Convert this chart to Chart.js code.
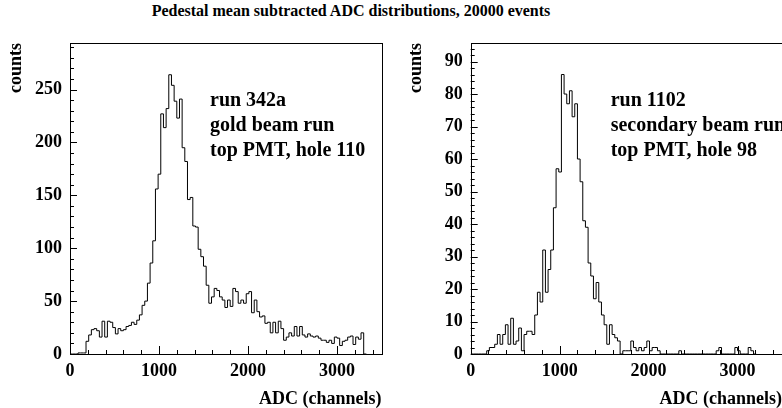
<!DOCTYPE html>
<html>
<head>
<meta charset="utf-8">
<title>Pedestal mean subtracted ADC distributions</title>
<script src="https://cdn.jsdelivr.net/npm/chart.js@4.4.0/dist/chart.umd.min.js"></script>
<style>
  body { margin: 0; background: #fff; width: 782px; height: 408px; overflow: hidden; position: relative; font-family: 'Liberation Serif', 'Times New Roman', serif; }
  #title { position: absolute; left: 0; top: 3px; width: 702px; text-align: center; font-weight: bold; font-size: 16px; line-height: 16px; color: #000; }
  canvas { position: absolute; top: 0; }
  #padLeft { left: 0; }
  #padRight { left: 391px; }
</style>
</head>
<body>
<div id="title">Pedestal mean subtracted ADC distributions, 20000 events</div>
<canvas id="padLeft" width="391" height="408"></canvas>
<canvas id="padRight" width="400" height="408"></canvas>
<script>
// ADC histograms, 30 channel bins starting at channel 0
const BIN_WIDTH = 30;

// run 342a, gold beam
const goldCounts = [
  0, 0, 0, 0, 1, 1, 1, 12, 18, 23,
  24, 22, 16, 31, 16, 31, 30, 25, 19, 24,
  22, 23, 26, 27, 30, 28, 32, 37, 46, 50,
  67, 86, 107, 156, 170, 227, 214, 232, 264, 254,
  239, 223, 241, 195, 182, 146, 148, 121, 120, 99,
  92, 83, 65, 48, 54, 62, 60, 54, 51, 44,
  51, 45, 62, 59, 48, 51, 48, 57, 59, 39,
  51, 40, 35, 36, 29, 30, 20, 30, 20, 31,
  24, 13, 16, 20, 17, 26, 17, 26, 18, 16,
  19, 17, 16, 17, 15, 13, 13, 11, 13, 10,
  16, 15, 8, 12, 13, 16, 17, 9, 16, 14,
  20
];

// run 1102, secondary beam
const secondaryCounts = [
  0, 0, 0, 0, 0, 0, 0, 1, 2, 2,
  3, 6, 3, 6, 9, 3, 11, 3, 4, 8,
  1, 6, 7, 7, 6, 12, 19, 16, 32, 19,
  26, 32, 45, 57, 56, 86, 80, 77, 81, 73,
  77, 60, 53, 41, 39, 28, 24, 17, 22, 16,
  12, 9, 3, 9, 6, 5, 4, 0, 1, 1,
  1, 4, 2, 1, 2, 1, 2, 4, 1, 2,
  2, 1, 0, 0, 0, 0, 0, 0, 0, 1,
  0, 0, 0, 0, 0, 0, 0, 0, 0, 0,
  0, 0, 0, 1, 2, 0, 0, 0, 0, 0,
  2, 1, 0, 0, 0, 2, 1
];

const xTicks = [0, 1000, 2000, 3000];
const goldYTicks = [0, 50, 100, 150, 200, 250];
const secondaryYTicks = [0, 10, 20, 30, 40, 50, 60, 70, 80, 90];

const goldNotes = ['run 342a', 'gold beam run', 'top PMT, hole 110'];
const secondaryNotes = ['run 1102', 'secondary beam run', 'top PMT, hole 98'];

const FONT = '"Liberation Serif", "Times New Roman", serif';

// histogram -> step outline points at the low edge of every bin
function toSteps(counts) {
  const pts = counts.map((c, i) => ({ x: i * BIN_WIDTH, y: c }));
  pts.push({ x: counts.length * BIN_WIDTH, y: 0 });
  return pts;
}

// ROOT style frame, inward ticks and the text box
const rootPad = {
  id: 'rootPad',
  afterDraw(chart, args, opts) {
    const { ctx, chartArea: a, scales: { x, y } } = chart;
    ctx.save();
    ctx.strokeStyle = '#000';
    ctx.lineWidth = 1;
    ctx.strokeRect(Math.round(a.left) + 0.5, Math.round(a.top) + 0.5,
      Math.round(a.right - a.left), Math.round(a.bottom - a.top));
    ctx.beginPath();
    for (let v = 0; v <= x.max; v += opts.xMinor) {
      const px = Math.round(x.getPixelForValue(v)) + 0.5;
      const len = v % opts.xMajor === 0 ? 8 : 4;
      ctx.moveTo(px, a.bottom);
      ctx.lineTo(px, a.bottom - len);
    }
    for (let v = 0; v <= y.max; v += opts.yMinor) {
      const py = Math.round(y.getPixelForValue(v)) + 0.5;
      const len = v % opts.yMajor === 0 ? 7 : 4;
      ctx.moveTo(a.left, py);
      ctx.lineTo(a.left + len, py);
    }
    ctx.stroke();

    ctx.fillStyle = '#000';
    ctx.font = 'bold 20px ' + FONT;
    ctx.textBaseline = 'alphabetic';
    opts.notes.forEach((t, i) => {
      ctx.fillText(t, a.left + 140, 106 + i * 25);
    });
    ctx.restore();
  }
};

function makePad(id, counts, yMax, yTickValues, yMajor, yMinor, notes, yWidth, titleOffset, padRight) {
  const tickFont = { family: FONT, weight: 'bold', size: 18, lineHeight: 1 };
  return new Chart(document.getElementById(id), {
    type: 'line',
    data: {
      datasets: [{
        data: toSteps(counts),
        stepped: 'after',
        borderColor: '#000',
        borderWidth: 1,
        pointRadius: 0,
        fill: false
      }]
    },
    options: {
      responsive: false,
      devicePixelRatio: 1,
      animation: false,
      events: [],
      layout: { padding: { top: 43, left: 0, right: padRight, bottom: 0 } },
      scales: {
        x: {
          type: 'linear',
          min: 0,
          max: 3500,
          afterBuildTicks: s => { s.ticks = xTicks.map(v => ({ value: v })); },
          afterFit: s => { s.height = 54; },
          ticks: { color: '#000', font: tickFont, padding: 8, maxRotation: 0, autoSkip: false, callback: v => String(v) },
          grid: { display: false, drawTicks: false },
          border: { display: false },
          title: {
            display: true,
            text: 'ADC (channels)',
            align: 'end',
            color: '#000',
            font: tickFont,
            padding: { top: 0, bottom: 0 }
          }
        },
        y: {
          type: 'linear',
          min: 0,
          max: yMax,
          afterBuildTicks: s => { s.ticks = yTickValues.map(v => ({ value: v })); },
          afterFit: s => { s.width = yWidth; },
          ticks: { color: '#000', font: tickFont, padding: 8, autoSkip: false, callback: v => String(v) },
          grid: { display: false, drawTicks: false },
          border: { display: false },
          title: {
            display: true,
            text: 'counts',
            align: 'end',
            color: '#000',
            font: tickFont,
            padding: { top: titleOffset, bottom: 0 }
          }
        }
      },
      plugins: {
        legend: { display: false },
        tooltip: { enabled: false },
        rootPad: { xMajor: 1000, xMinor: 200, yMajor: yMajor, yMinor: yMinor, notes: notes }
      }
    },
    plugins: [rootPad]
  });
}

function drawPads() {
  makePad('padLeft', goldCounts, 294, goldYTicks, 50, 10, goldNotes, 70, 7, 9.5);
  makePad('padRight', secondaryCounts, 95.7, secondaryYTicks, 10, 2, secondaryNotes, 79.7, 16, 9);
}

// make sure the serif face is ready before the canvases are painted
Promise.all([
  document.fonts.load('bold 18px "Liberation Serif"'),
  document.fonts.load('bold 20px "Liberation Serif"')
]).then(drawPads, drawPads);
</script>
</body>
</html>
